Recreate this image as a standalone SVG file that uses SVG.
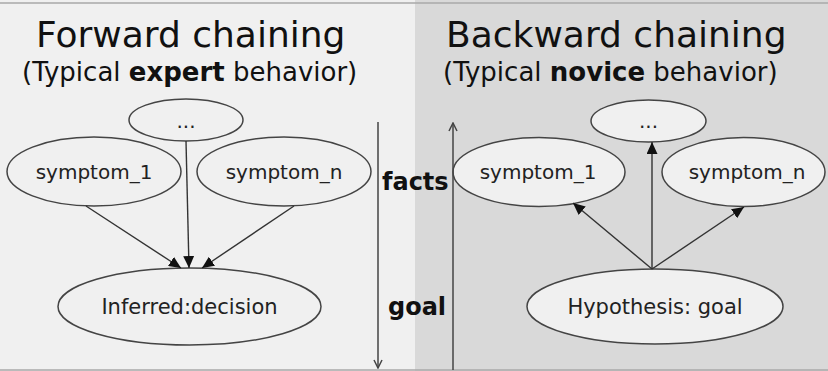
<svg xmlns="http://www.w3.org/2000/svg" width="828" height="371" viewBox="0 0 828 371">
<style>
.title{font-family:"DejaVu Sans",Verdana,sans-serif;font-size:36px;fill:#111}
.sub{font-family:"DejaVu Sans",Verdana,sans-serif;font-size:26px;fill:#111}
.b{font-weight:bold}
.node ellipse{fill:#f0f0f0;stroke:#444;stroke-width:1.5}
.node text{font-family:"DejaVu Sans",Verdana,sans-serif;font-size:20px;fill:#222;text-anchor:middle}
.node text.big{font-size:21px}
.lab{font-family:"DejaVu Sans",Verdana,sans-serif;font-size:24px;font-weight:bold;fill:#111}
.edge{stroke:#333;stroke-width:1.4;fill:none}
.axis{stroke:#444;stroke-width:1.5;fill:none}
</style>
<defs>
<marker id="tri" viewBox="0 0 12 11" refX="12" refY="5.5" markerWidth="12" markerHeight="11" markerUnits="userSpaceOnUse" orient="auto">
<path d="M0,0 L12,5.5 L0,11 z" fill="#111"/>
</marker>
<marker id="open" viewBox="0 0 10 10" refX="9" refY="5" markerWidth="10" markerHeight="10" markerUnits="userSpaceOnUse" orient="auto">
<path d="M1,1 L9,5 L1,9" fill="none" stroke="#444" stroke-width="1.5"/>
</marker>
</defs>
<rect x="0" y="0" width="415" height="371" fill="#f0f0f0"/>
<rect x="415" y="0" width="413" height="371" fill="#d9d9d9"/>
<line x1="0" y1="3" x2="828" y2="3" stroke="#a8a8a8" stroke-width="1.5"/>
<line x1="0" y1="370" x2="828" y2="370" stroke="#a8a8a8" stroke-width="1.5"/>

<text class="title" x="36" y="47">Forward chaining</text>
<text class="sub" x="22" y="81">(Typical <tspan class="b">expert</tspan> behavior)</text>
<text class="title" x="446" y="47">Backward chaining</text>
<text class="sub" x="443" y="81">(Typical <tspan class="b">novice</tspan> behavior)</text>

<text class="lab" x="382" y="190">facts</text>
<text class="lab" x="388" y="315">goal</text>

<g id="L_dots" class="node"><ellipse cx="186" cy="120" rx="57" ry="21"/><text x="186" y="128">...</text></g>
<g id="L_s1" class="node"><ellipse cx="94" cy="171.5" rx="87" ry="34.5"/><text x="94" y="179">symptom_1</text></g>
<g id="L_sn" class="node"><ellipse cx="284" cy="171.5" rx="87" ry="34.5"/><text x="284" y="179">symptom_n</text></g>
<g id="L_goal" class="node"><ellipse cx="189.5" cy="306.5" rx="131.5" ry="38.5"/><text class="big" x="189.5" y="314">Inferred:decision</text></g>

<g id="R_dots" class="node"><ellipse cx="648.5" cy="121" rx="57.5" ry="21"/><text x="648.5" y="128">...</text></g>
<g id="R_s1" class="node"><ellipse cx="539" cy="172" rx="86" ry="34.5"/><text x="538" y="179">symptom_1</text></g>
<g id="R_sn" class="node"><ellipse cx="743.5" cy="172" rx="81.5" ry="34.5"/><text x="747" y="179">symptom_n</text></g>
<g id="R_goal" class="node"><ellipse cx="655" cy="306.5" rx="128" ry="37.5"/><text class="big" x="655" y="314">Hypothesis: goal</text></g>

<g id="connectors">
<line class="axis" x1="378" y1="122" x2="378" y2="368" marker-end="url(#open)"/>
<line class="axis" x1="453" y1="370" x2="453" y2="123" marker-end="url(#open)"/>
<line class="edge" x1="86" y1="206" x2="181" y2="268" marker-end="url(#tri)"/>
<line class="edge" x1="186" y1="141" x2="189" y2="268" marker-end="url(#tri)"/>
<line class="edge" x1="294" y1="206" x2="202" y2="268" marker-end="url(#tri)"/>
<line class="edge" x1="652" y1="269" x2="573" y2="203" marker-end="url(#tri)"/>
<line class="edge" x1="652" y1="269" x2="652" y2="142" marker-end="url(#tri)"/>
<line class="edge" x1="652" y1="269" x2="744" y2="207" marker-end="url(#tri)"/>
</g>
</svg>
